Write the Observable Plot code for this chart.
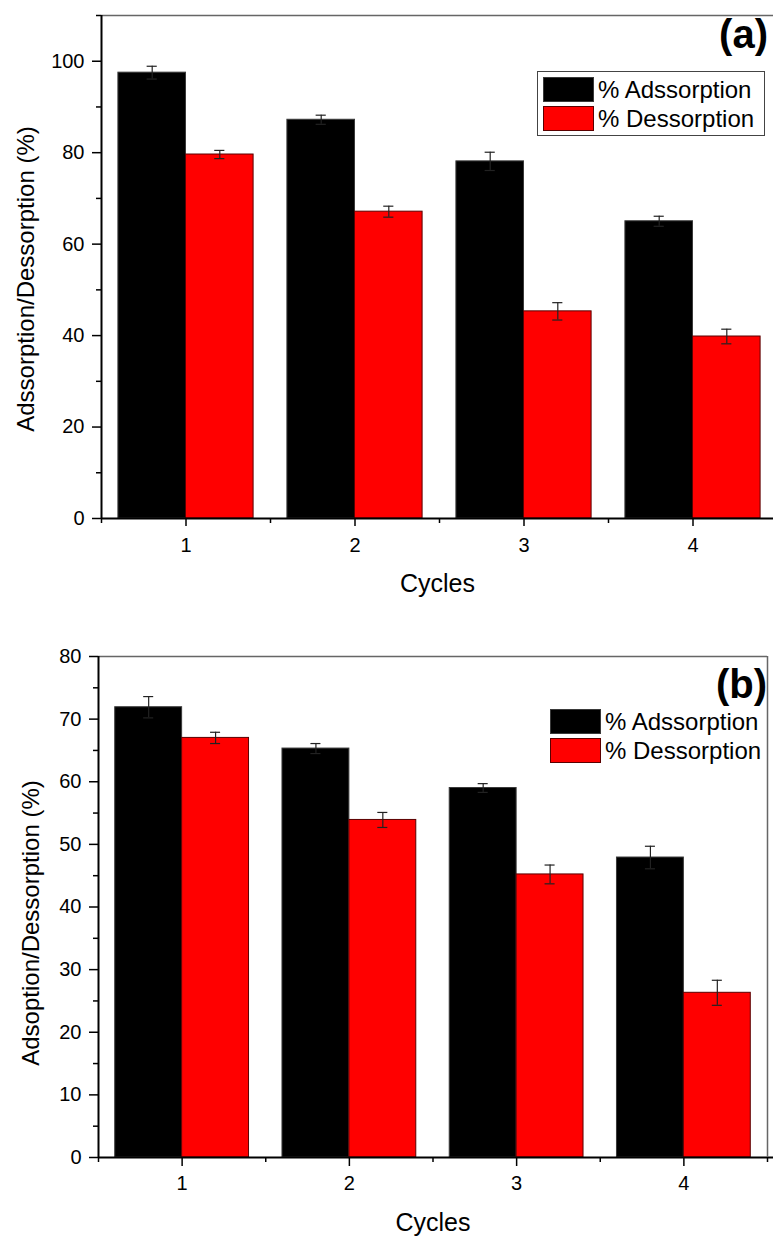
<!DOCTYPE html>
<html>
<head>
<meta charset="utf-8">
<script src="https://cdn.jsdelivr.net/npm/d3@7"></script>
<script src="https://cdn.jsdelivr.net/npm/@observablehq/plot@0.6"></script>
<style>
  html, body { margin: 0; padding: 0; background: #fff; }
  #wrap { position: relative; width: 773px; height: 1237px; font-family: "Liberation Sans", Arial, Helvetica, sans-serif; overflow: hidden; }
  .panel { position: absolute; left: 0; }
  .tag { position: absolute; font-weight: bold; font-size: 40px; line-height: 1; color: #000; text-align: right; }
  .legend { position: absolute; font-size: 24px; color: #000; }
  .legend .row { display: flex; align-items: center; height: 29px; }
  .legend .sw { width: 51px; height: 25px; margin-right: 4px; box-sizing: border-box; border: 1px solid #333; }
</style>
</head>
<body>
<div id="wrap"></div>
<script>
// ---------- data ----------
const cycles = [1, 2, 3, 4];
const seriesNames = ["% Adssorption", "% Dessorption"];
// panel (a)
const adsA = [97.5, 87.2, 78.1, 65.0];
const adsErrA = [1.4, 1.0, 2.0, 1.1];
const desA = [79.6, 67.1, 45.3, 39.8];
const desErrA = [0.9, 1.2, 1.9, 1.6];
const yTicksA = [0, 20, 40, 60, 80, 100];
const yMinorA = [10, 30, 50, 70, 90, 110];
// panel (b)
const adsB = [71.9, 65.3, 59.0, 47.9];
const adsErrB = [1.7, 0.8, 0.7, 1.8];
const desB = [67.0, 53.9, 45.2, 26.3];
const desErrB = [0.9, 1.2, 1.5, 2.0];
const yTicksB = [0, 10, 20, 30, 40, 50, 60, 70, 80];
const yMinorB = [5, 15, 25, 35, 45, 55, 65, 75];
const xMinor = [0.5, 1.5, 2.5, 3.5, 4.5];

const colors = ["#000000", "#ff0000"];
const strokes = ["#3a3a3a", "#5a0000"];
const BW = 0.4, CAP = 0.03;
const FONT = "Liberation Sans, Arial, Helvetica, sans-serif";

function rows(ads, adsErr, des, desErr) {
  const out = [];
  cycles.forEach((c, i) => {
    out.push({cycle: c, s: 0, x1: c - BW, x2: c, xc: c - BW / 2, v: ads[i], e: adsErr[i]});
    out.push({cycle: c, s: 1, x1: c, x2: c + BW, xc: c + BW / 2, v: des[i], e: desErr[i]});
  });
  return out;
}

function panel(cfg) {
  const data = rows(cfg.ads, cfg.adsErr, cfg.des, cfg.desErr);
  const marks = [
    Plot.rectY(data, {x1: "x1", x2: "x2", y1: 0, y2: "v",
      fill: d => colors[d.s], stroke: d => strokes[d.s], strokeWidth: 1}),
    Plot.ruleX(data, {x: "xc", y1: d => d.v - d.e, y2: d => d.v + d.e, stroke: "#222", strokeWidth: 1.2}),
    Plot.ruleY(data, {y: d => d.v + d.e, x1: d => d.xc - CAP, x2: d => d.xc + CAP, stroke: "#222", strokeWidth: 1.2}),
    Plot.ruleY(data, {y: d => d.v - d.e, x1: d => d.xc - CAP, x2: d => d.xc + CAP, stroke: "#222", strokeWidth: 1.2}),
    // frame
    Plot.ruleY([cfg.ymax], {stroke: "#666", strokeWidth: 1.5}),
    Plot.ruleX([0.5], {y1: 0, y2: cfg.ymax, stroke: "#000", strokeWidth: 2}),
    Plot.ruleY([0], {x1: 0.5, x2: 4.6, stroke: "#000", strokeWidth: 2}),
    // axes
    Plot.axisY({ticks: cfg.yTicks, tickSize: 9, tickPadding: 8, fontSize: 20, label: null, strokeWidth: 1.5, fontFamily: FONT}),
    Plot.axisY({ticks: cfg.yMinor, tickSize: 5, tickFormat: () => "", label: null, strokeWidth: 1.5}),
    Plot.axisX({ticks: cycles, tickSize: cfg.xTick, tickPadding: cfg.xPad, fontSize: 20, label: null, strokeWidth: 1.5, tickFormat: d3.format("d"), fontFamily: FONT}),
    Plot.axisX({ticks: xMinor, tickSize: 5, tickFormat: () => "", label: null, strokeWidth: 1.5}),
    Plot.text([cfg.ylabel], {frameAnchor: "left", textAnchor: "middle", lineAnchor: "middle", rotate: -90, dx: cfg.ylDx, dy: cfg.ylDy, fontSize: 24, fontFamily: FONT, fill: "#000"}),
    Plot.text(["Cycles"], {frameAnchor: "bottom", dy: cfg.xlDy, fontSize: 25, fontFamily: FONT, fill: "#000", lineAnchor: "middle"})
  ];
  if (cfg.rightFrame) marks.push(Plot.ruleX([4.5], {y1: 0, y2: cfg.ymax, stroke: "#666", strokeWidth: 1.5}));
  return Plot.plot({
    width: 773, height: cfg.height,
    marginLeft: cfg.ml, marginRight: cfg.mr, marginTop: cfg.mt, marginBottom: cfg.mb,
    style: {background: "transparent", fontFamily: FONT, color: "#000", overflow: "visible"},
    x: {type: "linear", domain: [0.5, 4.5], range: cfg.xrange},
    y: {domain: [0, cfg.ymax]},
    marks
  });
}

const wrap = document.getElementById("wrap");

const pa = panel({ads: adsA, adsErr: adsErrA, des: desA, desErr: desErrA, yTicks: yTicksA, yMinor: yMinorA,
  ymax: 110, height: 620, ml: 101, mr: 0, mt: 15, mb: 102, xrange: [101, 777],
  xTick: 8, xPad: 11, ylabel: "Adssorption/Dessorption (%)", ylDx: -75, ylDy: 12, xlDy: 65, rightFrame: false});
pa.classList.add("panel"); pa.style.top = "0px";
wrap.appendChild(pa);

const pb = panel({ads: adsB, adsErr: adsErrB, des: desB, desErr: desErrB, yTicks: yTicksB, yMinor: yMinorB,
  ymax: 80, height: 617, ml: 98, mr: 6, mt: 36, mb: 80, xrange: [98, 767],
  xTick: 9, xPad: 9, ylabel: "Adsoption/Dessorption (%)", ylDx: -67, ylDy: 16, xlDy: 65, rightFrame: true});
pb.classList.add("panel"); pb.style.top = "620px";
wrap.appendChild(pb);

function tag(text, right, top) {
  const d = document.createElement("div");
  d.className = "tag"; d.textContent = text;
  d.style.right = right + "px"; d.style.top = top + "px";
  wrap.appendChild(d);
}
tag("(a)", 5, 14);
tag("(b)", 6, 664);

function legend(left, top, boxed) {
  const d = document.createElement("div");
  d.className = "legend";
  d.style.left = left + "px"; d.style.top = top + "px";
  if (boxed) { d.style.border = "1.5px solid #444"; d.style.padding = "3px 10px 2px 5px"; }
  seriesNames.forEach((n, i) => {
    const r = document.createElement("div"); r.className = "row";
    const sw = document.createElement("div"); sw.className = "sw";
    sw.style.background = colors[i]; sw.style.borderColor = strokes[i];
    const t = document.createElement("span"); t.textContent = n;
    r.appendChild(sw); r.appendChild(t); d.appendChild(r);
  });
  wrap.appendChild(d);
}
legend(537, 71, true);
legend(550, 707, false);
</script>
</body>
</html>
